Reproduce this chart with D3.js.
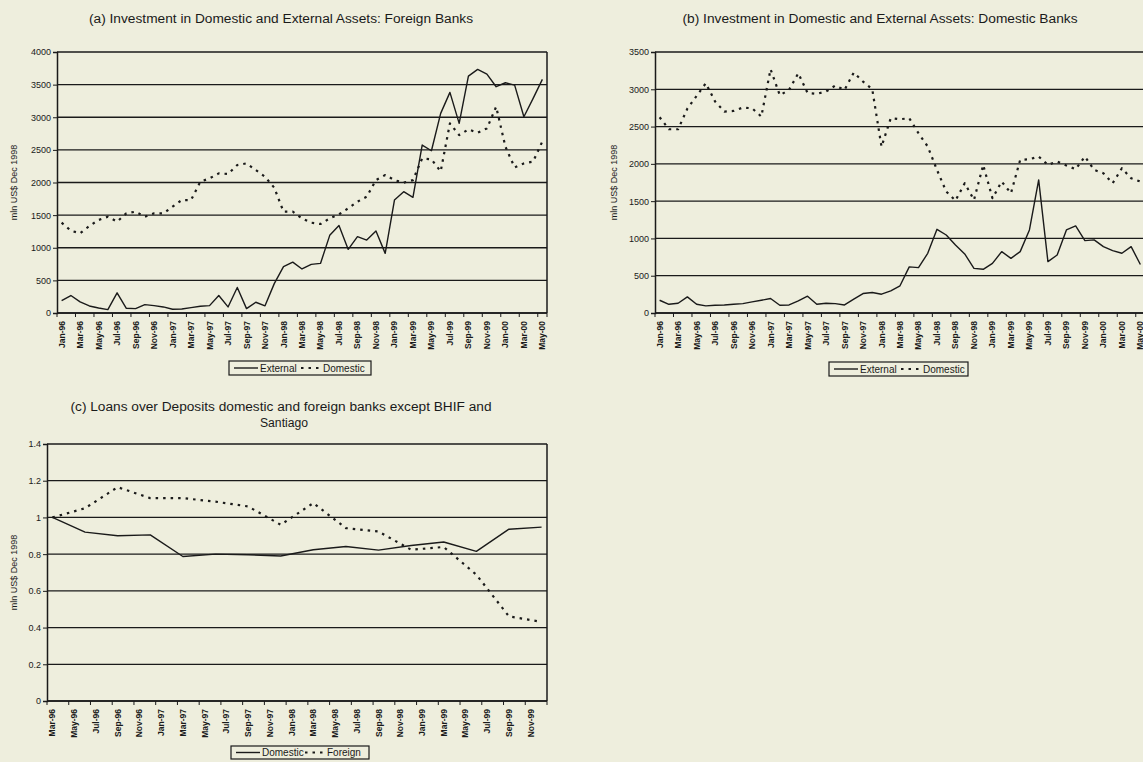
<!DOCTYPE html>
<html>
<head>
<meta charset="utf-8">
<script src="https://cdn.jsdelivr.net/npm/d3@7"></script>
<style>
  html, body { margin: 0; padding: 0; background: #eeeedd; }
  svg { display: block; }
  text { font-family: "Liberation Sans", Arial, sans-serif; fill: #1a1a1a; }
</style>
</head>
<body>
<svg id="chart" width="1143" height="762"></svg>
<script>
// ---------- DATA ----------
const monthsAB = ["Jan-96","Feb-96","Mar-96","Apr-96","May-96","Jun-96","Jul-96","Aug-96","Sep-96","Oct-96","Nov-96","Dec-96",
  "Jan-97","Feb-97","Mar-97","Apr-97","May-97","Jun-97","Jul-97","Aug-97","Sep-97","Oct-97","Nov-97","Dec-97",
  "Jan-98","Feb-98","Mar-98","Apr-98","May-98","Jun-98","Jul-98","Aug-98","Sep-98","Oct-98","Nov-98","Dec-98",
  "Jan-99","Feb-99","Mar-99","Apr-99","May-99","Jun-99","Jul-99","Aug-99","Sep-99","Oct-99","Nov-99","Dec-99",
  "Jan-00","Feb-00","Mar-00","Apr-00","May-00"];

// (a) Foreign banks
const externalA = [190,268,170,108,77,52,309,72,67,129,113,93,57,62,82,103,113,268,93,391,67,165,110,450,
  710,780,675,745,760,1190,1340,975,1170,1118,1256,914,1731,1859,1772,2574,2487,3059,3381,2906,3631,3733,
  3662,3468,3529,3493,3008,3289,3580];
const domesticA = [1384,1262,1221,1333,1425,1476,1400,1527,1553,1476,1527,1527,1629,1731,1731,2012,2063,2140,
  2130,2268,2293,2191,2089,1920,1553,1553,1450,1384,1364,1450,1512,1604,1706,1782,2037,2114,2037,1997,2037,
  2370,2355,2170,2906,2727,2814,2763,2829,3161,2550,2230,2293,2320,2630];

// (b) Domestic banks
const externalB = [171,117,131,216,117,95,104,108,117,126,149,171,194,104,108,162,225,117,131,126,108,185,261,
  275,252,297,365,618,608,800,1122,1046,912,792,599,586,666,823,733,823,1114,1785,689,778,1114,1167,971,980,
  890,836,801,890,650];
const domesticB = [2625,2464,2464,2740,2911,3081,2835,2701,2710,2755,2746,2634,3269,2920,2992,3215,2950,2938,
  2970,3050,2992,3224,3104,3001,2230,2612,2598,2612,2411,2232,1919,1628,1507,1740,1516,1986,1539,1762,1606,
  2053,2062,2098,1986,2030,1977,1928,2098,1919,1874,1740,1941,1807,1762];

// (c) Loans over deposits (quarterly values on a monthly axis)
const monthsC = ["Mar-96","Apr-96","May-96","Jun-96","Jul-96","Aug-96","Sep-96","Oct-96","Nov-96","Dec-96",
  "Jan-97","Feb-97","Mar-97","Apr-97","May-97","Jun-97","Jul-97","Aug-97","Sep-97","Oct-97","Nov-97","Dec-97",
  "Jan-98","Feb-98","Mar-98","Apr-98","May-98","Jun-98","Jul-98","Aug-98","Sep-98","Oct-98","Nov-98","Dec-98",
  "Jan-99","Feb-99","Mar-99","Apr-99","May-99","Jun-99","Jul-99","Aug-99","Sep-99","Oct-99","Nov-99","Dec-99"];
const quartersC = ["Mar-96","Jun-96","Sep-96","Dec-96","Mar-97","Jun-97","Sep-97","Dec-97",
  "Mar-98","Jun-98","Sep-98","Dec-98","Mar-99","Jun-99","Sep-99","Dec-99"];
const domesticC = [1.0,0.92,0.90,0.905,0.787,0.80,0.797,0.79,0.824,0.842,0.822,0.847,0.866,0.815,0.936,0.947];
const foreignC  = [1.0,1.05,1.165,1.105,1.105,1.086,1.06,0.96,1.078,0.942,0.923,0.824,0.839,0.688,0.461,0.431];

const yTicksA = [0,500,1000,1500,2000,2500,3000,3500,4000];
const yTicksB = [0,500,1000,1500,2000,2500,3000,3500];
const yTicksC = [0,0.2,0.4,0.6,0.8,1.0,1.2,1.4];

// ---------- DRAW ----------
const svg = d3.select("#chart");
const INK = "#1a1a1a";

function drawPanel(cfg) {
  const g = svg.append("g");
  const x = d3.scaleBand().domain(cfg.cats).range([cfg.left, cfg.right]).paddingInner(0).paddingOuter(0);
  const cx = c => x(c) + x.bandwidth() / 2;
  const y = d3.scaleLinear().domain([0, cfg.yMax]).range([cfg.bottom, cfg.top]);

  // gridlines
  g.selectAll(".grid").data(cfg.yTicks).enter().append("line")
    .attr("x1", cfg.left).attr("x2", cfg.right)
    .attr("y1", d => y(d)).attr("y2", d => y(d))
    .attr("stroke", INK).attr("stroke-width", 1.3);

  // y axis
  const yAxis = d3.axisLeft(y).tickValues(cfg.yTicks).tickSize(4).tickFormat(cfg.yFmt);
  const ya = g.append("g").attr("transform", `translate(${cfg.left},0)`).call(yAxis);
  ya.select(".domain").attr("stroke", INK).attr("stroke-width", 1.5);
  ya.selectAll(".tick line").attr("stroke", INK);
  ya.selectAll(".tick text").attr("font-size", 9).attr("font-family", "Liberation Sans, Arial, sans-serif")
    .attr("fill", INK).attr("x", -6);

  // right border
  g.append("line").attr("x1", cfg.right).attr("x2", cfg.right).attr("y1", cfg.top).attr("y2", cfg.bottom)
    .attr("stroke", INK).attr("stroke-width", 1.5);

  // x axis
  const labelCats = cfg.cats.filter((c, i) => i % 2 === 0);
  const xa = g.append("g").attr("transform", `translate(0,${cfg.bottom})`);
  xa.append("line").attr("x1", cfg.left).attr("x2", cfg.right).attr("y1", 0).attr("y2", 0)
    .attr("stroke", INK).attr("stroke-width", 1.5);
  xa.selectAll(".xt").data(labelCats.concat(["__end"])).enter().append("line")
    .attr("x1", d => d === "__end" ? cfg.right : x(d)).attr("x2", d => d === "__end" ? cfg.right : x(d))
    .attr("y1", 0).attr("y2", 4).attr("stroke", INK);
  xa.selectAll(".xl").data(labelCats).enter().append("text")
    .attr("transform", d => `translate(${cx(d) + 3},8) rotate(-90)`)
    .attr("text-anchor", "end").attr("font-size", 8.5).attr("font-weight", "bold")
    .text(d => d);

  // series
  cfg.series.forEach(s => {
    const line = d3.line().x(d => cx(d.c)).y(d => y(d.v));
    const pts = s.cats.map((c, i) => ({ c: c, v: s.values[i] }));
    g.append("path").datum(pts).attr("d", line).attr("fill", "none")
      .attr("stroke", INK).attr("stroke-width", s.dotted ? 2.2 : 1.4)
      .attr("stroke-dasharray", s.dotted ? "2.5,5" : null)
      .attr("stroke-linejoin", "round");
  });

  // title
  cfg.title.forEach((t, i) => {
    const tt = svg.append("text").attr("x", cfg.titleX[i]).attr("y", cfg.titleY + i * 16)
      .attr("text-anchor", "middle").attr("font-size", 12).text(t);
    if (cfg.titleLen[i]) tt.attr("textLength", cfg.titleLen[i]).attr("lengthAdjust", "spacingAndGlyphs");
  });

  // y label
  svg.append("text").attr("transform", `translate(${cfg.yLabelX},${(cfg.top + cfg.bottom) / 2}) rotate(-90)`)
    .attr("text-anchor", "middle").attr("font-size", 9).text("mln US$ Dec 1998");

  // legend
  const L = cfg.legend;
  const lg = svg.append("g");
  lg.append("rect").attr("x", L.x).attr("y", L.y).attr("width", L.w).attr("height", L.h)
    .attr("fill", "#eeeedd").attr("stroke", INK).attr("stroke-width", 1.2);
  const my = L.y + L.h / 2;
  lg.append("line").attr("x1", L.x + 5).attr("x2", L.x + 29).attr("y1", my).attr("y2", my)
    .attr("stroke", INK).attr("stroke-width", 1.4);
  lg.append("text").attr("x", L.x + 31).attr("y", my + 3.5).attr("font-size", 10).text(L.names[0]);
  lg.append("line").attr("x1", L.x + L.dotX).attr("x2", L.x + L.dotX + 20).attr("y1", my).attr("y2", my)
    .attr("stroke", INK).attr("stroke-width", 2.2).attr("stroke-dasharray", "2.5,5");
  lg.append("text").attr("x", L.x + L.dotX + 22).attr("y", my + 3.5).attr("font-size", 10).text(L.names[1]);
}

drawPanel({
  cats: monthsAB, left: 57, right: 547, top: 52, bottom: 313, yMax: 4000, yTicks: yTicksA,
  yFmt: d3.format("d"),
  series: [{ cats: monthsAB, values: externalA, dotted: false }, { cats: monthsAB, values: domesticA, dotted: true }],
  title: ["(a) Investment in Domestic and External Assets: Foreign Banks"], titleX: [281], titleY: 23, titleLen: [384],
  yLabelX: 17,
  legend: { x: 229, y: 361, w: 142, h: 14, dotX: 72, names: ["External", "Domestic"] }
});

drawPanel({
  cats: monthsAB, left: 655, right: 1145, top: 52, bottom: 313, yMax: 3500, yTicks: yTicksB,
  yFmt: d3.format("d"),
  series: [{ cats: monthsAB, values: externalB, dotted: false }, { cats: monthsAB, values: domesticB, dotted: true }],
  title: ["(b) Investment in Domestic and External Assets: Domestic Banks"], titleX: [880], titleY: 23, titleLen: [395],
  yLabelX: 617,
  legend: { x: 829, y: 362, w: 139, h: 14, dotX: 72, names: ["External", "Domestic"] }
});

drawPanel({
  cats: monthsC, left: 47, right: 547, top: 444, bottom: 701, yMax: 1.4, yTicks: yTicksC,
  yFmt: d => d === 0 ? "0" : (d === 1 ? "1" : d3.format(".1f")(d)),
  series: [{ cats: quartersC, values: domesticC, dotted: false }, { cats: quartersC, values: foreignC, dotted: true }],
  title: ["(c) Loans over Deposits domestic and foreign banks except BHIF and", "Santiago"],
  titleX: [281, 284], titleY: 411, titleLen: [421, 48],
  yLabelX: 17,
  legend: { x: 231, y: 746, w: 138, h: 13, dotX: 74, names: ["Domestic", "Foreign"] }
});
</script>
</body>
</html>
